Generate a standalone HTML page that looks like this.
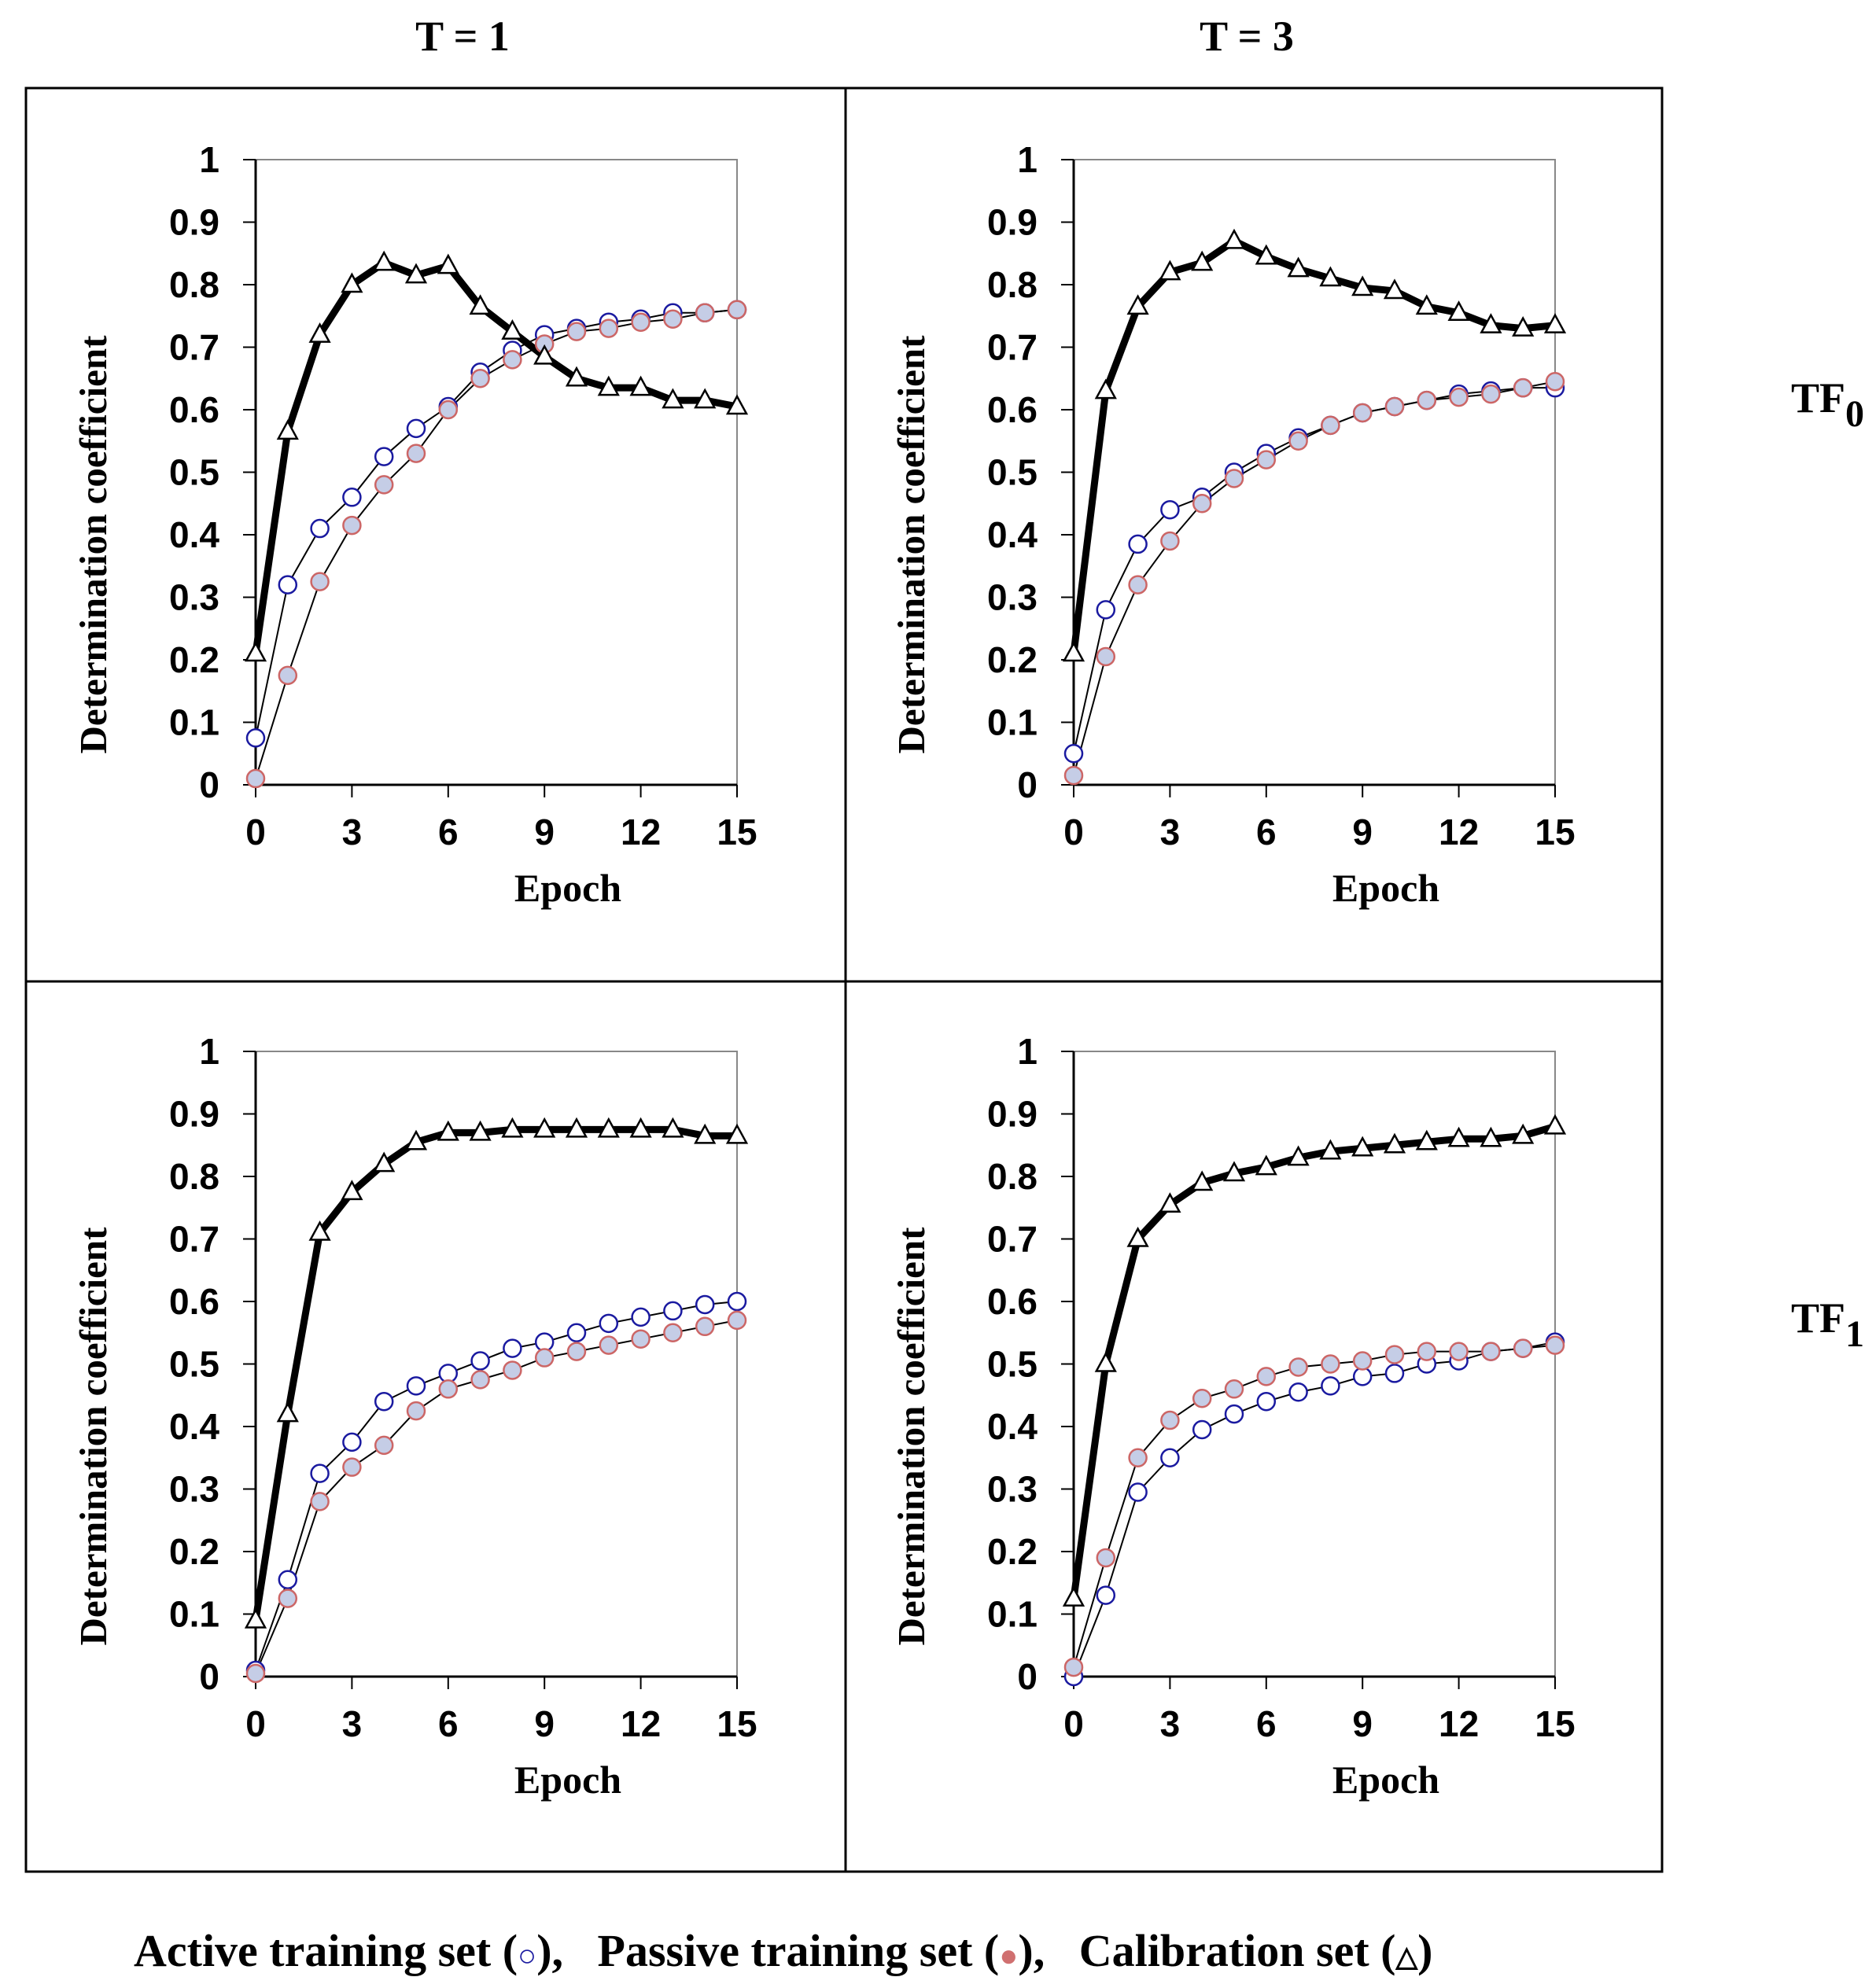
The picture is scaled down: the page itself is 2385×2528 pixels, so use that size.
<!DOCTYPE html>
<html><head><meta charset="utf-8"><style>
html,body{margin:0;padding:0;background:#fff;}
svg{display:block;}
.tick{font-family:"Liberation Sans",sans-serif;font-weight:bold;font-size:46px;fill:#000;}
.ser{font-family:"Liberation Serif",serif;font-weight:bold;fill:#000;}
</style></head><body>
<svg id="chart" width="2385" height="2528" viewBox="0 0 2385 2528" xmlns="http://www.w3.org/2000/svg">
<rect x="0" y="0" width="2385" height="2528" fill="#fff"/>
<rect x="33" y="112" width="2080" height="2268" fill="none" stroke="#000" stroke-width="3"/>
<line x1="1075" y1="112" x2="1075" y2="2380" stroke="#000" stroke-width="3"/>
<line x1="33" y1="1248" x2="2113" y2="1248" stroke="#000" stroke-width="3"/>
<text class="ser" x="588" y="64" font-size="54" text-anchor="middle">T = 1</text>
<text class="ser" x="1585" y="64" font-size="54" text-anchor="middle">T = 3</text>
<text class="ser" x="2277" y="524" font-size="54">TF<tspan font-size="48" dy="18">0</tspan></text>
<text class="ser" x="2277" y="1694" font-size="54">TF<tspan font-size="48" dy="18">1</tspan></text>
<text class="ser" x="170" y="2500" font-size="58" style="white-space:pre" xml:space="preserve">Active training set (<tspan fill="#1a1aa0" font-size="40">○</tspan>),   Passive training set (<tspan fill="#d07070" font-size="40">●</tspan>),   Calibration set (<tspan font-size="36">△</tspan>)</text>
<g id="plots"></g>
</svg>
<script>
const epochs=[0,1,2,3,4,5,6,7,8,9,10,11,12,13,14,15];
const yTicks=[0,0.1,0.2,0.3,0.4,0.5,0.6,0.7,0.8,0.9,1];
const xTicks=[0,3,6,9,12,15];
const yTickLabels=["0","0.1","0.2","0.3","0.4","0.5","0.6","0.7","0.8","0.9","1"];
const calTL=[0.21,0.565,0.72,0.80,0.835,0.815,0.83,0.765,0.725,0.685,0.65,0.635,0.635,0.615,0.615,0.605];
const actTL=[0.075,0.32,0.41,0.46,0.525,0.57,0.605,0.66,0.695,0.72,0.73,0.74,0.745,0.755,0.755,0.76];
const pasTL=[0.01,0.175,0.325,0.415,0.48,0.53,0.60,0.65,0.68,0.705,0.725,0.73,0.74,0.745,0.755,0.76];
const calTR=[0.21,0.63,0.765,0.82,0.835,0.87,0.845,0.825,0.81,0.795,0.79,0.765,0.755,0.735,0.73,0.735];
const actTR=[0.05,0.28,0.385,0.44,0.46,0.50,0.53,0.555,0.575,0.595,0.605,0.615,0.625,0.63,0.635,0.635];
const pasTR=[0.015,0.205,0.32,0.39,0.45,0.49,0.52,0.55,0.575,0.595,0.605,0.615,0.62,0.625,0.635,0.645];
const calBL=[0.09,0.42,0.71,0.775,0.82,0.855,0.87,0.87,0.875,0.875,0.875,0.875,0.875,0.875,0.865,0.865];
const actBL=[0.01,0.155,0.325,0.375,0.44,0.465,0.485,0.505,0.525,0.535,0.55,0.565,0.575,0.585,0.595,0.60];
const pasBL=[0.005,0.125,0.28,0.335,0.37,0.425,0.46,0.475,0.49,0.51,0.52,0.53,0.54,0.55,0.56,0.57];
const calBR=[0.125,0.50,0.70,0.755,0.79,0.805,0.815,0.83,0.84,0.845,0.85,0.855,0.86,0.86,0.865,0.88];
const actBR=[0.0,0.13,0.295,0.35,0.395,0.42,0.44,0.455,0.465,0.48,0.485,0.50,0.505,0.52,0.525,0.535];
const pasBR=[0.015,0.19,0.35,0.41,0.445,0.46,0.48,0.495,0.50,0.505,0.515,0.52,0.52,0.52,0.525,0.53];

const NS="http://www.w3.org/2000/svg";
const root=document.getElementById('plots');
function mk(tag,attrs,parent){const e=document.createElementNS(NS,tag);for(const k in attrs)e.setAttribute(k,attrs[k]);(parent||root).appendChild(e);return e;}

function panel(id,x0,y0,cal,act,pas){
  const W=612,H=795;
  const sx=v=>x0+v/15*W;
  const sy=v=>y0+H-v*H;
  const g=mk('g',{});
  
  
  const fr=mk('rect',{x:x0,y:y0,width:W,height:H,fill:'none',stroke:'#888','stroke-width':2},g);
  
  
  const ya=mk('line',{x1:x0,y1:y0,x2:x0,y2:y0+H,stroke:'#000','stroke-width':3},g);
  
  
  const xa=mk('line',{x1:x0,y1:y0+H,x2:x0+W,y2:y0+H,stroke:'#000','stroke-width':3},g);
  
  
  yTicks.forEach((v,i)=>{
    mk('line',{x1:x0-16,y1:sy(v),x2:x0,y2:sy(v),stroke:'#000','stroke-width':2},g);
    const t=mk('text',{x:x0-46,y:sy(v)+16,'text-anchor':'end',class:'tick'},g);
    t.textContent=yTickLabels[i];
    
    
  });
  xTicks.forEach(v=>{
    mk('line',{x1:sx(v),y1:y0+H,x2:sx(v),y2:y0+H+16,stroke:'#000','stroke-width':2},g);
    const t=mk('text',{x:sx(v),y:y0+H+76,'text-anchor':'middle',class:'tick'},g);
    t.textContent=String(v);
    
    
  });
  const xt=mk('text',{x:x0+W/2+91,y:y0+H+148,'text-anchor':'middle',class:'ser','font-size':50},g);
  xt.textContent='Epoch';
  
  
  const yt=mk('text',{x:0,y:0,'text-anchor':'middle',class:'ser','font-size':49,transform:`translate(${x0-190},${y0+H/2+92}) rotate(-90)`},g);
  yt.textContent='Determination coefficient';
  
  
  const pts=arr=>arr.map((v,i)=>sx(epochs[i])+','+sy(v)).join(' ');
  const l1=mk('polyline',{points:pts(act),fill:'none',stroke:'#000','stroke-width':2},g);
  
  
  const l2=mk('polyline',{points:pts(pas),fill:'none',stroke:'#000','stroke-width':2},g);
  
  
  const l3=mk('polyline',{points:pts(cal),fill:'none',stroke:'#000','stroke-width':9,'stroke-linejoin':'round'},g);
  
  
  act.forEach((v,i)=>{
    const c=mk('circle',{cx:sx(epochs[i]),cy:sy(v),r:11,fill:'#fff',stroke:'#1a1aa0','stroke-width':2.5},g);
    
    
  });
  pas.forEach((v,i)=>{
    const c=mk('circle',{cx:sx(epochs[i]),cy:sy(v),r:11,fill:'#c5cde6',stroke:'#cc6666','stroke-width':2.5},g);
    
    
  });
  cal.forEach((v,i)=>{
    const cx=sx(epochs[i]),cy=sy(v);
    const p=mk('polygon',{points:`${cx},${cy-13} ${cx-12},${cy+9} ${cx+12},${cy+9}`,fill:'#fff',stroke:'#000','stroke-width':2.5},g);
    
    
  });
}
panel('t1-tf0',325,203,calTL,actTL,pasTL);
panel('t3-tf0',1365,203,calTR,actTR,pasTR);
panel('t1-tf1',325,1337,calBL,actBL,pasBL);
panel('t3-tf1',1365,1337,calBR,actBR,pasBR);
</script>
</body></html>
